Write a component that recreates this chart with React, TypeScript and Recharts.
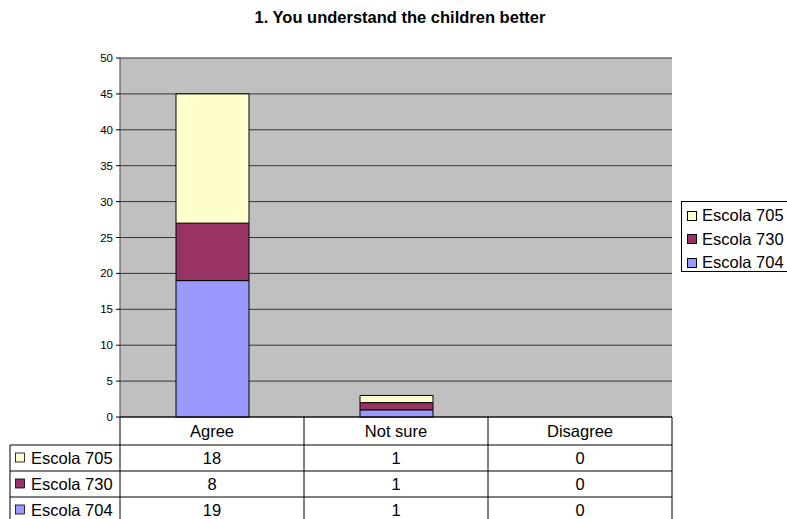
import React from 'react'
import { BarChart, Bar, XAxis, YAxis, CartesianGrid } from 'recharts'

const categories = ['Agree', 'Not sure', 'Disagree']
const escola704 = [19, 1, 0]
const escola730 = [8, 1, 0]
const escola705 = [18, 1, 0]
const yTicks = [0, 5, 10, 15, 20, 25, 30, 35, 40, 45, 50]

// stacking order, bottom first
const series = [
    { key: 'e704', name: 'Escola 704', color: '#9999FF', values: escola704 },
    { key: 'e730', name: 'Escola 730', color: '#993366', values: escola730 },
    { key: 'e705', name: 'Escola 705', color: '#FFFFCC', values: escola705 },
]
// table + legend list top series first
const tableRows = [...series].reverse()

const data = categories.map((category, i) => {
    const row: any = { category }
    series.forEach(s => { row[s.key] = s.values[i] })
    return row
})

const FONT = '"Liberation Sans", Arial, sans-serif'
const FS = 16.5
const W = 787
const H = 519
const PLOT_LEFT = 120
const PLOT_RIGHT = 672
const PLOT_TOP = 58
const PLOT_BOTTOM = 417
const BAND = (PLOT_RIGHT - PLOT_LEFT) / categories.length
const HEADER_H = 28
const ROW_H = 26
const TABLE_LEFT = 10

const TableColumn = (props: any) => {
    const { x, index, payload } = props
    const left = x - BAND / 2
    const right = x + BAND / 2
    const lines: any[] = []
    if (index === 0) {
        lines.push(<line key="l" x1={left} y1={PLOT_BOTTOM} x2={left} y2={H + 10} stroke="#000" />)
    }
    lines.push(<line key="r" x1={right} y1={PLOT_BOTTOM} x2={right} y2={H + 10} stroke="#000" />)
    return (
        <g>
            {lines}
            <text x={x} y={PLOT_BOTTOM + HEADER_H / 2 + 6} textAnchor="middle" fontSize={FS} fontFamily={FONT} fill="#000">
                {payload.value}
            </text>
            {tableRows.map((s, r) => {
                const top = PLOT_BOTTOM + HEADER_H + r * ROW_H
                return (
                    <g key={s.key}>
                        <line x1={left} y1={top} x2={right} y2={top} stroke="#000" />
                        <text x={x} y={top + ROW_H / 2 + 6} textAnchor="middle" fontSize={FS} fontFamily={FONT} fill="#000">
                            {s.values[index]}
                        </text>
                    </g>
                )
            })}
            {index === 0 && tableRows.map((s, r) => {
                const top = PLOT_BOTTOM + HEADER_H + r * ROW_H
                return (
                    <g key={'lab' + s.key}>
                        <line x1={TABLE_LEFT} y1={top} x2={left} y2={top} stroke="#000" />
                        <rect x={15.5} y={top + ROW_H / 2 - 5} width={9} height={9} fill={s.color} stroke="#000" strokeWidth={0.8} />
                        <text x={31} y={top + ROW_H / 2 + 6} fontSize={FS} fontFamily={FONT} fill="#000">{s.name}</text>
                    </g>
                )
            })}
            {index === 0 && (
                <line x1={TABLE_LEFT} y1={PLOT_BOTTOM + HEADER_H} x2={TABLE_LEFT} y2={H + 10} stroke="#000" />
            )}
        </g>
    )
}

export default function App() {
    return (
        <div style={{ position: 'absolute', left: 0, top: 0, width: W, height: H, background: '#fff', fontFamily: FONT, overflow: 'hidden' }}>
            <div style={{
                position: 'absolute', left: 0, top: 7, width: 800, textAlign: 'center',
                fontSize: 16.5, lineHeight: '20px', fontWeight: 'bold', color: '#000'
            }}>
                1. You understand the children better
            </div>

            <BarChart width={W} height={H} data={data} barSize={73}
                margin={{ top: PLOT_TOP, right: W - PLOT_RIGHT, left: PLOT_LEFT - 40, bottom: 0 }}
            >
                <CartesianGrid yAxisId="left" vertical={false} fill="#C0C0C0" stroke="#333" fillOpacity={1} />
                <XAxis dataKey="category" axisLine={{ stroke: '#000' }} tickLine={false}
                    height={H - PLOT_BOTTOM} interval={0} tick={(p: any) => <TableColumn {...p} />} />
                <YAxis yAxisId="left" width={40} domain={[0, 50]} ticks={yTicks} interval={0}
                    axisLine={{ stroke: '#444' }} tickLine={{ stroke: '#000' }} tickSize={4} tickMargin={3}
                    tick={{ fontSize: 11.5, fill: '#000', fontFamily: FONT }} />
                <YAxis yAxisId="right" orientation="right" width={0} domain={[0, 50]} tick={false}
                    axisLine={{ stroke: '#888' }} tickLine={false} />
                {series.map(s => (
                    <Bar key={s.key} yAxisId="left" dataKey={s.key} name={s.name} stackId="a"
                        fill={s.color} stroke="#000" strokeWidth={1} isAnimationActive={false} />
                ))}
            </BarChart>

            <div style={{
                position: 'absolute', left: 681, top: 201, width: 120, height: 71, boxSizing: 'border-box',
                border: '1px solid #000', background: '#fff', padding: '2px 0 0 5px'
            }}>
                {tableRows.map(s => (
                    <div key={s.key} style={{ display: 'flex', alignItems: 'center', height: 23.5, fontSize: FS, color: '#000', whiteSpace: 'nowrap' }}>
                        <span style={{
                            display: 'inline-block', width: 8, height: 8, background: s.color,
                            border: '1px solid #000', marginRight: 5, flexShrink: 0
                        }} />
                        {s.name}
                    </div>
                ))}
            </div>
        </div>
    )
}
